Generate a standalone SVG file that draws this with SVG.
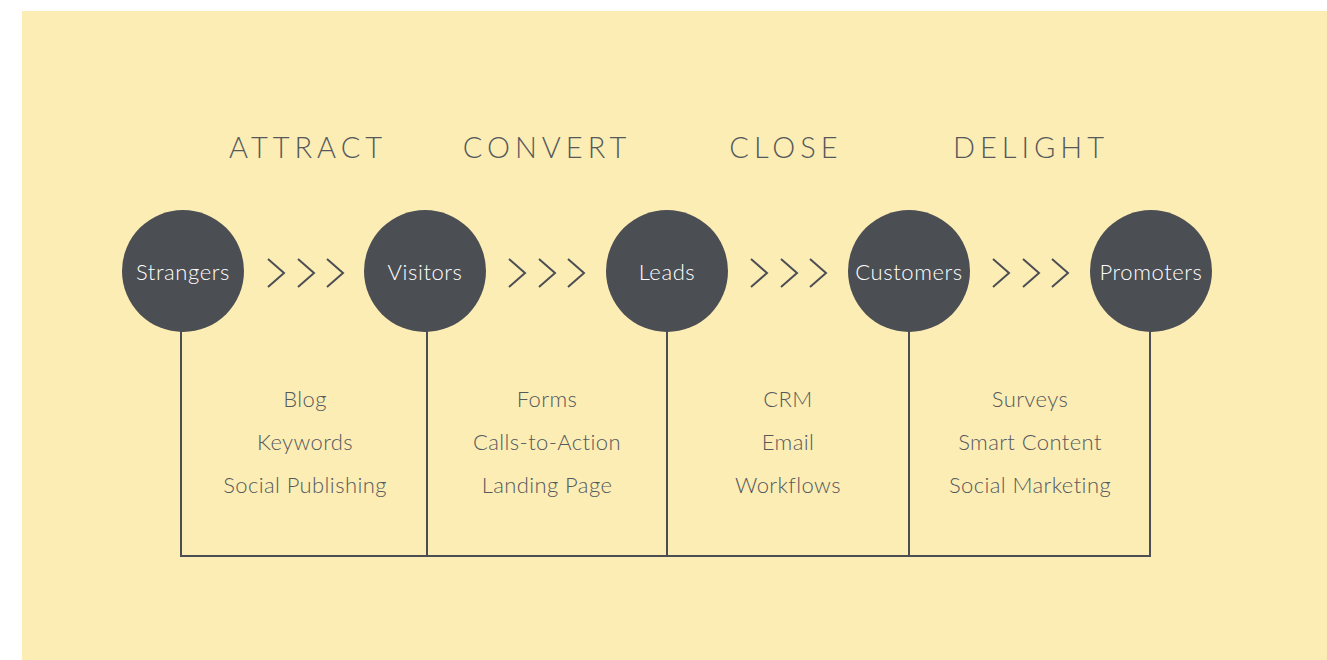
<svg xmlns="http://www.w3.org/2000/svg" width="1327" height="660" viewBox="0 0 1327 660">
<style>
.bg{fill:#fcedb5}
.node circle{fill:#4b4e53}
.node text{fill:#ffffff;font-family:Lato,"Noto Sans",sans-serif;font-weight:300;font-size:22px;letter-spacing:0.6px;text-anchor:middle}
.title{fill:#55595c;font-family:Lato,"Noto Sans",sans-serif;font-weight:300;font-size:29px;letter-spacing:5px;text-anchor:middle}
.item{fill:#55595c;font-family:Lato,"Noto Sans",sans-serif;font-weight:300;font-size:22px;letter-spacing:0.4px;text-anchor:middle}
.conn{fill:none;stroke:#4b4e53;stroke-width:2}
.chev{fill:none;stroke:#4b4e53;stroke-width:2}
</style>
<defs>
<path id="chev" d="M0,-14 L16,0 L0,14"/>
</defs>
<rect class="bg" x="22" y="11" width="1305" height="649"/>
<g id="titles">
<text class="title" x="308" y="158">ATTRACT</text>
<text class="title" x="547" y="158">CONVERT</text>
<text class="title" x="786" y="158">CLOSE</text>
<text class="title" x="1031" y="158">DELIGHT</text>
</g>
<g id="connectors">
<path class="conn" d="M181,330 V556 H1150 V330"/>
<path class="conn" d="M427,330 V556"/>
<path class="conn" d="M667,330 V556"/>
<path class="conn" d="M909,330 V556"/>
<g class="chev">
<use href="#chev" x="268" y="273"/><use href="#chev" x="298" y="273"/><use href="#chev" x="327" y="273"/>
<use href="#chev" x="509" y="273"/><use href="#chev" x="539" y="273"/><use href="#chev" x="568" y="273"/>
<use href="#chev" x="751" y="273"/><use href="#chev" x="781" y="273"/><use href="#chev" x="810" y="273"/>
<use href="#chev" x="993" y="273"/><use href="#chev" x="1023" y="273"/><use href="#chev" x="1052" y="273"/>
</g>
</g>
<g id="strangers" class="node"><circle cx="183" cy="271" r="61"/><text x="183" y="280">Strangers</text></g>
<g id="visitors" class="node"><circle cx="425" cy="271" r="61"/><text x="425" y="280">Visitors</text></g>
<g id="leads" class="node"><circle cx="667" cy="271" r="61"/><text x="667" y="280">Leads</text></g>
<g id="customers" class="node"><circle cx="909" cy="271" r="61"/><text x="909" y="280">Customers</text></g>
<g id="promoters" class="node"><circle cx="1151" cy="271" r="61"/><text x="1151" y="280">Promoters</text></g>
<g id="attract-items">
<text class="item" x="305" y="407">Blog</text>
<text class="item" x="305" y="450">Keywords</text>
<text class="item" x="305" y="493">Social Publishing</text>
</g>
<g id="convert-items">
<text class="item" x="547" y="407">Forms</text>
<text class="item" x="547" y="450">Calls-to-Action</text>
<text class="item" x="547" y="493">Landing Page</text>
</g>
<g id="close-items">
<text class="item" x="788" y="407">CRM</text>
<text class="item" x="788" y="450">Email</text>
<text class="item" x="788" y="493">Workflows</text>
</g>
<g id="delight-items">
<text class="item" x="1030" y="407">Surveys</text>
<text class="item" x="1030" y="450">Smart Content</text>
<text class="item" x="1030" y="493">Social Marketing</text>
</g>
</svg>
